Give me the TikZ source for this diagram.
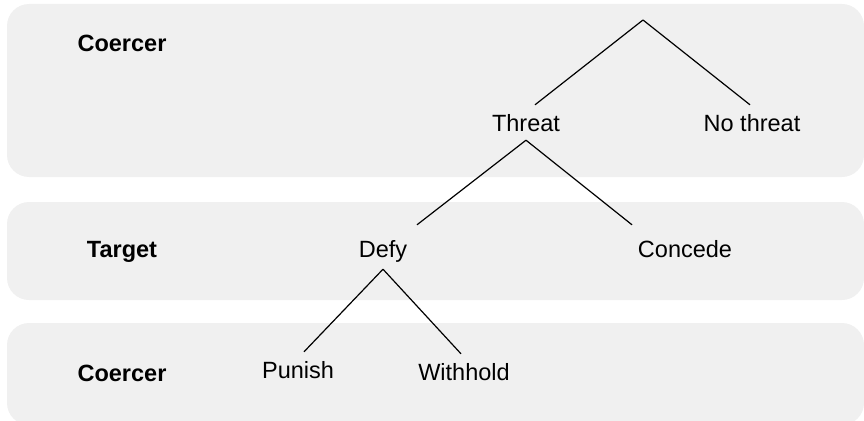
\documentclass[tikz,border=0pt]{standalone}
\usepackage{fontspec}
\setmainfont{Liberation Sans}
\definecolor{bandgray}{HTML}{F0F0F0}

\begin{document}
\begin{tikzpicture}[
  x=1pt, y=-1pt,
  band/.style={fill=bandgray, rounded corners=22pt},
  player/.style={anchor=base, inner sep=0pt, font=\fontsize{23.5}{28}\selectfont\bfseries},
  move/.style={anchor=base, inner sep=0pt, text height=17pt, text depth=5pt, font=\fontsize{23.5}{28}\selectfont},
  edge/.style={draw, line width=1.2pt},
]
  \useasboundingbox (0,0) rectangle (864,420);

  % stages
  \fill[band] (7,4) rectangle (864,177);
  \fill[band] (7,202) rectangle (864,300);
  \fill[band] (7,323) rectangle (864,425);

  \node[player] (coercer1) at (122,52) {Coercer};
  \node[player] (target) at (122,257) {Target};
  \node[player] (coercer2) at (122,381) {Coercer};

  % game tree
  \coordinate (root) at (643,20);
  \node[move] (threat) at (526,131) {Threat};
  \node[move] (nothreat) at (752,131) {No threat};
  \node[move] (defy) at (383,257) {Defy};
  \node[move] (concede) at (685,257) {Concede};
  \node[move] (punish) at (298,378) {Punish};
  \node[move] (withhold) at (464,380) {Withhold};

  \draw[edge] (root) -- ([xshift=9pt,yshift=9pt]threat.north);
  \draw[edge] (root) -- ([xshift=-2pt,yshift=9pt]nothreat.north);
  \draw[edge] ([yshift=-4pt]threat.south) -- ([xshift=34pt,yshift=15pt]defy.north);
  \draw[edge] ([yshift=-4pt]threat.south) -- ([xshift=-53pt,yshift=15pt]concede.north);
  \draw[edge] ([yshift=-7pt]defy.south) -- ([xshift=6pt,yshift=9pt]punish.north);
  \draw[edge] ([yshift=-7pt]defy.south) -- ([xshift=-3pt,yshift=9pt]withhold.north);
\end{tikzpicture}
\end{document}
